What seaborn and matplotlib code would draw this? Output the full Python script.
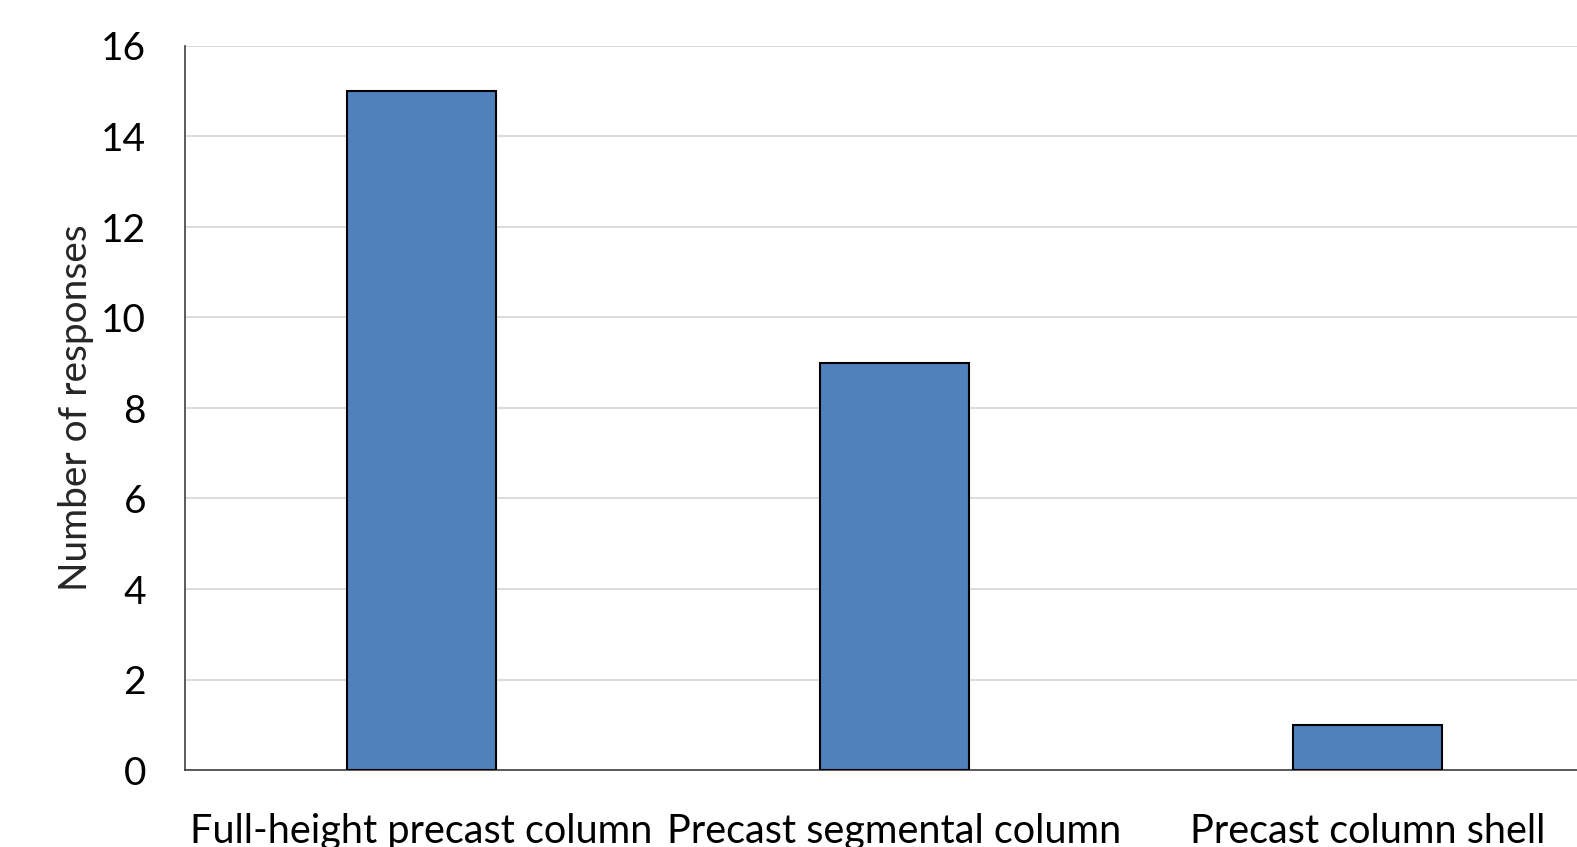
import matplotlib
matplotlib.use("Agg")
import matplotlib.pyplot as plt
import seaborn as sns
import pandas as pd

categories = ["Full-height precast column", "Precast segmental column", "Precast column shell"]
responses = [15, 9, 1]
y_ticks = [0, 2, 4, 6, 8, 10, 12, 14, 16]

df = pd.DataFrame({"type": categories, "count": responses})

sns.set_theme(style="white")
plt.rcParams["font.family"] = ["Lato", "DejaVu Sans"]

fig = plt.figure(figsize=(15.77, 8.47), dpi=100)
ax = fig.add_axes([185 / 1577, 77 / 847, 1419 / 1577, 724 / 847])

sns.barplot(data=df, x="type", y="count", color="#4f81bd", saturation=1,
            width=0.313, edgecolor="black", linewidth=1.5, ax=ax, zorder=3)

ax.set_ylim(0, 16)
ax.set_xlim(-0.5, 2.5)
ax.set_yticks(y_ticks)
ax.yaxis.grid(True, color="#d9d9d9", linewidth=1.3, zorder=0)
ax.set_axisbelow(True)

for side in ["top", "right"]:
    ax.spines[side].set_visible(False)
ax.spines["left"].set_color("#404040")
ax.spines["left"].set_linewidth(1.2)
ax.spines["bottom"].set_color("#404040")
ax.spines["bottom"].set_linewidth(1.2)

ax.tick_params(axis="y", length=0, pad=28, labelsize=28, labelcolor="black")
ax.tick_params(axis="x", length=0, pad=31, labelsize=28.5, labelcolor="black")
ax.set_xlabel("")
ax.set_ylabel("Number of responses", fontsize=28, labelpad=5)

fig.savefig("out.png", dpi=100)
